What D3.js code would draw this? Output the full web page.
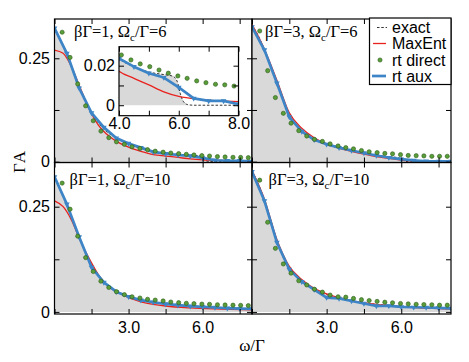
<!DOCTYPE html>
<html><head><meta charset="utf-8">
<script src="https://cdn.jsdelivr.net/npm/d3@7"></script>
<style>
body{margin:0;background:#fff;}
svg{display:block;}
.tk text{font-family:"Liberation Sans",Arial,sans-serif;font-size:16px;fill:#000;}
.tk line{stroke:#000;stroke-width:1;}
</style></head><body>
<svg id="c" width="469" height="362"></svg>
<script>
// ---------------- DATA ----------------
const xMajor = [0, 3, 6];
const xMinor = [1.5, 4.5, 7.5];
const xTickLabels = {3: "3.0", 6: "6.0"};
const yTicks = [0, 0.125, 0.25];
const yTickLabels = {0: "0", 0.25: "0.25"};
const insetXTicks = [4, 5, 6, 7, 8];
const insetXLabels = {4: "4.0", 6: "6.0", 8: "8.0"};
const insetYTicks = [0, 0.01, 0.02];
const insetYLabels = {0: "0", 0.02: "0.02"};

const seriesNames = ["exact", "MaxEnt", "rt direct", "rt aux"];
const panelLabels = [
  ["βΓ=1, Ω", "c", "/Γ=6"],
  ["βΓ=3, Ω", "c", "/Γ=6"],
  ["βΓ=1, Ω", "c", "/Γ=10"],
  ["βΓ=3, Ω", "c", "/Γ=10"]
];

// rt aux frequencies
const omegaAux = [0,0.5,1,1.5,2,2.5,3,3.5,4,4.5,5,5.5,6,6.5,7,7.5,8];
const auxTL = [0.323,0.262,0.178,0.118,0.083,0.057,0.044,0.034,0.0237,0.0195,0.0162,0.014,0.009,0.0035,0.0022,0.0022,0.0005];
const auxTR = [0.326,0.27,0.19,0.108,0.073,0.053,0.042,0.034,0.027,0.021,0.015,0.010,0.006,0.003,0.001,0.0005,0.0005];
const auxBL = [0.321,0.256,0.178,0.106,0.070,0.048,0.036,0.028,0.023,0.019,0.016,0.0135,0.012,0.0105,0.009,0.008,0.007];
const auxBR = [0.333,0.264,0.165,0.101,0.072,0.053,0.034,0.032,0.026,0.020,0.014,0.0145,0.012,0.011,0.0105,0.0095,0.0085];

// rt direct frequencies
const omegaDirect = [0.31,0.63,0.94,1.26,1.57,1.88,2.2,2.51,2.83,3.14,3.46,3.77,4.08,4.4,4.71,5.03,5.34,5.65,5.97,6.28,6.6,6.91,7.23,7.54,7.85];
const directTL = [0.313,0.252,0.188,0.135,0.099,0.074,0.058,0.048,0.042,0.036,0.032,0.029,0.0254,0.0229,0.0209,0.0195,0.0178,0.0162,0.0148,0.0136,0.0123,0.0114,0.0106,0.0103,0.0097];
const directTR = [0.316,0.22,0.155,0.117,0.093,0.075,0.062,0.054,0.049,0.043,0.038,0.034,0.031,0.027,0.024,0.022,0.020,0.019,0.017,0.015,0.0145,0.014,0.013,0.013,0.013];
const directBL = [0.306,0.244,0.180,0.129,0.096,0.073,0.058,0.048,0.041,0.036,0.033,0.030,0.028,0.026,0.0235,0.022,0.0204,0.0196,0.0185,0.018,0.017,0.0165,0.016,0.0155,0.015];
const directBR = [0.313,0.213,0.151,0.114,0.092,0.074,0.064,0.054,0.047,0.040,0.036,0.035,0.032,0.029,0.027,0.025,0.023,0.0216,0.020,0.019,0.018,0.0175,0.017,0.016,0.016];

// exact [omega, value]
const exactTL = [[0,0.325],[0.25,0.292],[0.5,0.258],[0.75,0.218],[1,0.18],[1.25,0.145],[1.5,0.117],[1.75,0.096],[2,0.079],[2.5,0.057],[3,0.043],[3.5,0.032],[4,0.0235],[4.5,0.0195],[5,0.0168],[5.5,0.0155],[5.8,0.0147],[5.95,0.012],[6.05,0.006],[6.15,0.002],[6.3,0.0003],[6.5,0],[8,0]];
const exactTR = [[0,0.33],[0.25,0.305],[0.5,0.27],[0.75,0.23],[1,0.19],[1.25,0.148],[1.5,0.114],[1.75,0.09],[2,0.073],[2.5,0.053],[3,0.042],[3.5,0.034],[4,0.027],[4.5,0.021],[5,0.016],[5.5,0.012],[5.8,0.0105],[5.95,0.008],[6.05,0.004],[6.15,0.001],[6.3,0],[8,0]];
const exactBL = [[0,0.322],[0.25,0.29],[0.5,0.256],[0.75,0.216],[1,0.177],[1.25,0.143],[1.5,0.113],[1.75,0.09],[2,0.072],[2.5,0.05],[3,0.037],[3.5,0.029],[4,0.023],[5,0.016],[6,0.012],[7,0.0095],[8,0.0075]];
const exactBR = [[0,0.335],[0.25,0.305],[0.5,0.265],[0.75,0.218],[1,0.17],[1.25,0.13],[1.5,0.103],[1.75,0.085],[2,0.072],[2.5,0.053],[3,0.041],[3.5,0.032],[4,0.026],[5,0.018],[6,0.013],[7,0.0095],[8,0.007]];

// MaxEnt [omega, value]
const maxentTL = [[0,0.27],[0.35,0.262],[0.65,0.234],[1,0.185],[1.36,0.133],[1.77,0.089],[2.24,0.060],[2.6,0.046],[3,0.035],[3.5,0.025],[4,0.0172],[4.5,0.0136],[5,0.0103],[5.5,0.0068],[6,0.0045],[6.7,0.003],[7.4,0.0022],[8,0.0018]];
const maxentTR = [[0,0.332],[0.5,0.272],[1,0.197],[1.5,0.118],[2,0.081],[2.5,0.058],[3,0.043],[3.5,0.033],[4,0.025],[4.5,0.018],[5,0.012],[5.5,0.008],[6,0.004],[6.5,0.002],[7,0.001],[8,0.0]];
const maxentBL = [[0,0.264],[0.35,0.25],[0.69,0.218],[1.03,0.171],[1.44,0.123],[1.83,0.084],[2.24,0.058],[2.78,0.040],[3.44,0.025],[4,0.018],[4.5,0.014],[5.5,0.0095],[6.5,0.007],[8,0.005]];
const maxentBR = [[0,0.336],[0.5,0.268],[1,0.172],[1.5,0.108],[2,0.077],[2.5,0.056],[3,0.043],[3.5,0.034],[4,0.027],[4.5,0.022],[5,0.018],[5.5,0.015],[6,0.012],[7,0.009],[8,0.007]];

// ---------------- STYLE ----------------
const C = {fill:"#d9d9d9", red:"#e8231f", blue:"#3d85c6", green:"#5a9e3a", greenStroke:"#2b5a1a"};
const serif = "'Liberation Serif','Times New Roman',serif";
const sans = "'Liberation Sans',Arial,sans-serif";

const svg = d3.select("#c");
const xL = d3.scaleLinear().domain([0,8]).range([54.5,252]);
const xR = d3.scaleLinear().domain([0,8]).range([252,451]);
const yT = d3.scaleLinear().domain([-0.002,0.345]).range([162.5,19]);
const yB = d3.scaleLinear().domain([-0.005,0.355]).range([314,162.5]);

const panels = [
  {x:xL, y:yT, lab:panelLabels[0], lx:74, ly:37, ex:exactTL, me:maxentTL, di:directTL, au:auxTL, left:true, bottom:false},
  {x:xR, y:yT, lab:panelLabels[1], lx:265, ly:37, ex:exactTR, me:maxentTR, di:directTR, au:auxTR, left:false, bottom:false},
  {x:xL, y:yB, lab:panelLabels[2], lx:69.5, ly:185, ex:exactBL, me:maxentBL, di:directBL, au:auxBL, left:true, bottom:true},
  {x:xR, y:yB, lab:panelLabels[3], lx:268.5, ly:185, ex:exactBR, me:maxentBR, di:directBR, au:auxBR, left:false, bottom:true}
];

function drawSeries(g, x, y, ex, me, di, au, omD, omA, r) {
  const area = d3.area().x(d=>x(d[0])).y0(y(0)).y1(d=>y(d[1])).curve(d3.curveMonotoneX);
  g.append("path").datum(ex).attr("d", area).attr("fill", C.fill);
  const line = d3.line().x(d=>x(d[0])).y(d=>y(d[1])).curve(d3.curveMonotoneX);
  g.append("path").datum(ex).attr("d", line).attr("fill","none").attr("stroke","#000")
    .attr("stroke-width",0.8).attr("stroke-dasharray","2.5,1.8");
  g.append("path").datum(me).attr("d", line).attr("fill","none").attr("stroke",C.red).attr("stroke-width",1.3);
  const auxPts = omA.map((w,i)=>[w, au[i]]);
  g.append("path").datum(auxPts).attr("d", d3.line().x(d=>x(d[0])).y(d=>y(d[1])))
    .attr("fill","none").attr("stroke",C.blue).attr("stroke-width",2.7).attr("stroke-linejoin","round");
  g.selectAll(null).data(auxPts).enter().append("path")
    .attr("d", d3.symbol(d3.symbolTriangle, 14)())
    .attr("transform", d=>`translate(${x(d[0])},${y(d[1])}) rotate(180)`)
    .attr("fill", C.blue);
  g.selectAll(null).data(omD.map((w,i)=>[w, di[i]])).enter().append("circle")
    .attr("cx", d=>x(d[0])).attr("cy", d=>y(d[1])).attr("r", r)
    .attr("fill", C.green).attr("stroke", C.greenStroke).attr("stroke-width",0.6);
}

function axes(g, x, y, opts) {
  const [x0,x1] = x.range(), [y0,y1] = y.range();
  const xt = opts.xt, yt = opts.yt;
  const bx = g.append("g").attr("class","tk").attr("transform",`translate(0,${y0})`)
    .call(d3.axisBottom(x).tickValues(xt).tickSize(-opts.len).tickPadding(opts.xpad)
      .tickFormat(d => opts.xlab && opts.xlab[d] !== undefined ? opts.xlab[d] : ""));
  const tx = g.append("g").attr("class","tk").attr("transform",`translate(0,${y1})`)
    .call(d3.axisTop(x).tickValues(xt).tickSize(-opts.len).tickFormat(""));
  const ly = g.append("g").attr("class","tk").attr("transform",`translate(${x0},0)`)
    .call(d3.axisLeft(y).tickValues(yt).tickSize(-opts.len).tickPadding(opts.ypad)
      .tickFormat(d => opts.ylab && opts.ylab[d] !== undefined ? opts.ylab[d] : ""));
  const ry = g.append("g").attr("class","tk").attr("transform",`translate(${x1},0)`)
    .call(d3.axisRight(y).tickValues(yt).tickSize(-opts.len).tickFormat(""));
  [bx,tx,ly,ry].forEach(a => a.select(".domain").remove());
  g.append("rect").attr("x",x0).attr("y",y1).attr("width",x1-x0).attr("height",y0-y1)
    .attr("fill","none").attr("stroke","#000").attr("stroke-width",1.2);
}

panels.forEach((p,i) => {
  const [x0,x1] = p.x.range(), [y0,y1] = p.y.range();
  const id = "clip"+i;
  svg.append("clipPath").attr("id",id).append("rect").attr("x",x0).attr("y",y1).attr("width",x1-x0).attr("height",y0-y1);
  const g = svg.append("g").attr("clip-path",`url(#${id})`);
  drawSeries(g, p.x, p.y, p.ex, p.me, p.di, p.au, omegaDirect, omegaAux, 2.1);
  const ag = svg.append("g");
  axes(ag, p.x, p.y, {xt: xMajor.concat(xMinor), yt: yTicks, len:5,
    xlab: p.bottom ? xTickLabels : null, ylab: p.left ? yTickLabels : null, xpad:8, ypad:4.5});
  const t = svg.append("text").attr("x",p.lx).attr("y",p.ly)
    .attr("font-family",serif).attr("font-size",16.5).attr("fill","#000");
  t.append("tspan").text(p.lab[0]);
  t.append("tspan").attr("font-size",11).attr("dy",4).text(p.lab[1]);
  t.append("tspan").attr("dy",-4).text(p.lab[2]);
});

// ---------------- INSET ----------------
const xi = d3.scaleLinear().domain([4,8]).range([119,238.5]);
const yi = d3.scaleLinear().domain([-0.0053,0.0296]).range([115.7,46.7]);
svg.append("rect").attr("x",119).attr("y",46.7).attr("width",119.5).attr("height",69).attr("fill","#fff");
svg.append("clipPath").attr("id","clipI").append("rect").attr("x",119).attr("y",46.7).attr("width",119.5).attr("height",69);
const gi = svg.append("g").attr("clip-path","url(#clipI)");
drawSeries(gi, xi, yi, exactTL, maxentTL, directTL, auxTL, omegaDirect, omegaAux, 2.1);
axes(svg.append("g"), xi, yi, {xt: insetXTicks, yt: insetYTicks, len:5, xlab: insetXLabels, ylab: insetYLabels, xpad:1.5, ypad:4});

// ---------------- LEGEND ----------------
const lg = svg.append("g");
lg.append("rect").attr("x",369.5).attr("y",18).attr("width",81.5).attr("height",66.5)
  .attr("fill","#fff").attr("stroke","#000").attr("stroke-width",1.2);
const rowsY = [27.5, 43.5, 60, 76];
seriesNames.forEach((name,i) => {
  const cy = rowsY[i];
  if (i===0) lg.append("line").attr("x1",377).attr("x2",387).attr("y1",cy).attr("y2",cy)
      .attr("stroke","#000").attr("stroke-width",0.8).attr("stroke-dasharray","2.5,1.8");
  if (i===1) lg.append("line").attr("x1",373).attr("x2",386).attr("y1",cy).attr("y2",cy)
      .attr("stroke",C.red).attr("stroke-width",1.3);
  if (i===2) lg.append("circle").attr("cx",380).attr("cy",cy).attr("r",2.1)
      .attr("fill",C.green).attr("stroke",C.greenStroke).attr("stroke-width",0.6);
  if (i===3) lg.append("line").attr("x1",372).attr("x2",386).attr("y1",cy).attr("y2",cy)
      .attr("stroke",C.blue).attr("stroke-width",2.7);
  lg.append("text").attr("x",392).attr("y",cy+5.5).attr("font-family",sans).attr("font-size",16)
    .attr("fill","#000").text(name);
});

// ---------------- AXIS TITLES ----------------
svg.append("text").attr("transform","translate(25,162) rotate(-90)").attr("text-anchor","middle")
  .attr("font-family",serif).attr("font-size",17).text("ΓA");
svg.append("text").attr("x",252).attr("y",351).attr("text-anchor","middle")
  .attr("font-family",serif).attr("font-size",17).text("ω/Γ");
</script></body></html>
